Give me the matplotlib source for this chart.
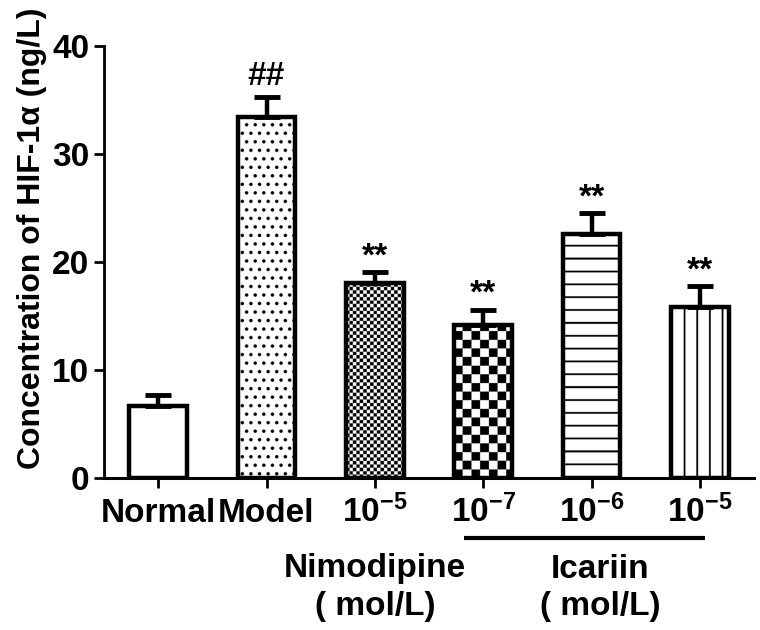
import numpy as np
import matplotlib
matplotlib.use('Agg')
import matplotlib.pyplot as plt
from matplotlib.transforms import blended_transform_factory

plt.rcParams['font.family'] = ['Liberation Sans', 'DejaVu Sans']
plt.rcParams['font.weight'] = 'bold'
plt.rcParams['mathtext.fontset'] = 'custom'
plt.rcParams['mathtext.rm'] = 'Liberation Sans:bold'
plt.rcParams['mathtext.bf'] = 'Liberation Sans:bold'

# data
groups = ['Normal', 'Model', r'$\mathbf{10^{-5}}$', r'$\mathbf{10^{-7}}$',
          r'$\mathbf{10^{-6}}$', r'$\mathbf{10^{-5}}$']
means = [6.7, 33.4, 18.1, 14.2, 22.6, 15.8]
errs = [1.0, 1.9, 1.0, 1.4, 1.9, 2.0]
marks = ['', '##', '**', '**', '**', '**']
fills = ['none', 'dots', 'fine_checker', 'checker', 'hlines', 'vlines']


def pattern(kind, w, h, s=4):
    ny, nx = max(int(h * s), 1), max(int(w * s), 1)
    yy, xx = np.mgrid[0:ny, 0:nx]
    xx = (xx + 0.5) / s
    yy = (yy + 0.5) / s
    if kind == 'dots':
        p = 8.5
        row = np.floor(yy / p)
        dx = ((xx + (row % 2) * p / 2) % p) - p / 2
        dy = (yy % p) - p / 2
        mask = dx**2 + dy**2 < 1.7**2
    elif kind == 'fine_checker':
        c = 3.4
        mask = (np.floor(xx / c) + np.floor(yy / c)) % 2 == 0
    elif kind == 'checker':
        c = 8.6
        mask = (np.floor(xx / c) + np.floor(yy / c)) % 2 == 0
    elif kind == 'hlines':
        mask = (yy % 12.8) < 1.8
    elif kind == 'vlines':
        mask = (xx % 12.5) < 1.8
    else:
        mask = np.zeros_like(xx, dtype=bool)
    img = np.where(mask[..., None], 0.0, 1.0) * np.ones(3)
    return img


fig = plt.figure(figsize=(7.6, 6.3), dpi=100)
ax = fig.add_axes([104 / 760, 152 / 630, 650 / 760, 432 / 630])
x = np.arange(len(groups))
ax.set_xlim(-0.5, len(groups) - 0.5)
ax.set_ylim(0, 40)

width = 0.53
px_x = ax.bbox.width / len(groups)
px_y = ax.bbox.height / 40

bars = ax.bar(x, means, width=width, color='white', edgecolor='none', zorder=2)
for b, kind in zip(bars, fills):
    if kind == 'none':
        continue
    x0, w, h = b.get_x(), b.get_width(), b.get_height()
    img = pattern(kind, w * px_x, h * px_y)
    im = ax.imshow(img, extent=(x0, x0 + w, 0, h), origin='lower',
                   aspect='auto', zorder=2.5, interpolation='antialiased')
    im.set_clip_path(b)
ax.set_aspect('auto')
ax.set_xlim(-0.5, len(groups) - 0.5)
ax.set_ylim(0, 40)

ax.bar(x, means, width=width, fill=False, edgecolor='black', linewidth=3.2, zorder=3)
ax.errorbar(x, means, yerr=[np.zeros(len(errs)), errs], fmt='none',
            ecolor='black', elinewidth=3.2, capsize=9.5, capthick=3.5, zorder=3)

for xi, m, e, t in zip(x, means, errs, marks):
    if t:
        off = 1.1 if t == '##' else 0.6
        ax.text(xi, m + e + off, t, ha='center', va='baseline', fontsize=24,
                fontweight='bold')

ax.spines['top'].set_visible(False)
ax.spines['right'].set_visible(False)
ax.spines['left'].set_linewidth(2)
ax.spines['bottom'].set_linewidth(2.2)
ax.tick_params(axis='both', width=2, length=7, labelsize=24)
ax.set_yticks([0, 10, 20, 30, 40])
ax.set_xticks(x, groups)
ax.tick_params(axis='x', pad=25)
for lab in ax.get_xticklabels():
    lab.set_va('baseline')
    lab.set_fontweight('bold')
for lab in ax.get_yticklabels():
    lab.set_fontweight('bold')

ax.set_ylabel('Concentration of HIF-1α (ng/L)', fontsize=23, fontweight='bold')
ax.yaxis.set_label_coords(-0.088, 0.556)

# group labels below the axis
tr = blended_transform_factory(ax.transData, fig.transFigure)
ax.text(2, 1 - 569 / 630, 'Nimodipine', transform=tr, ha='center', va='center',
        fontsize=24, fontweight='bold')
ax.text(2, 1 - 607 / 630, '( mol/L)', transform=tr, ha='center', va='center',
        fontsize=24, fontweight='bold')
ax.text(4.08, 1 - 569 / 630, 'Icariin', transform=tr, ha='center', va='center',
        fontsize=24, fontweight='bold')
ax.text(4.08, 1 - 607 / 630, '( mol/L)', transform=tr, ha='center', va='center',
        fontsize=24, fontweight='bold')
ax.plot([2.82, 5.05], [1 - 538 / 630] * 2, transform=tr, color='black',
        linewidth=3, clip_on=False, solid_capstyle='butt')

fig.savefig('out.png', dpi=100)
